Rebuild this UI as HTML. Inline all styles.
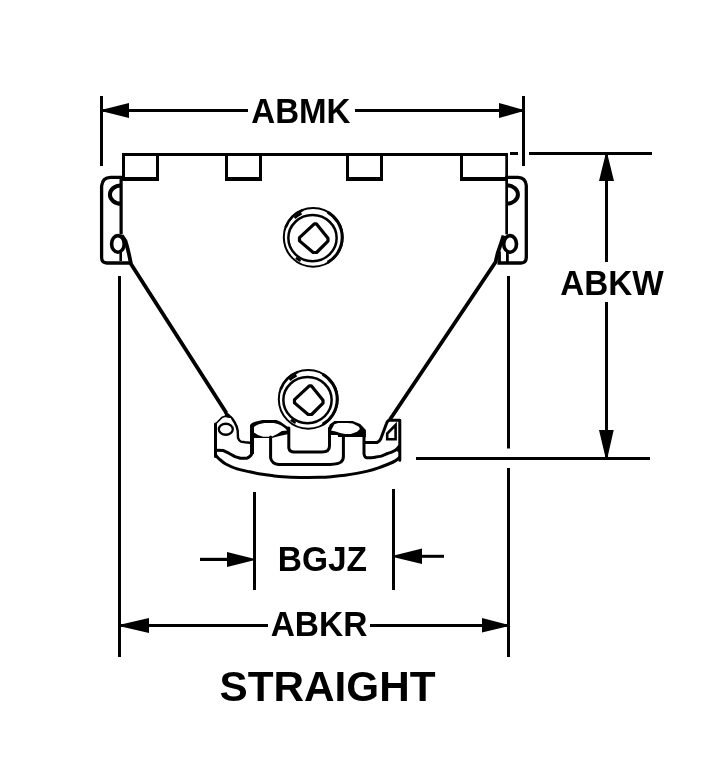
<!DOCTYPE html>
<html><head><meta charset="utf-8">
<style>
html,body{margin:0;padding:0;background:#fff;}
body{width:716px;height:778px;overflow:hidden;}
svg{display:block;will-change:transform;}
text{font-family:"Liberation Sans",sans-serif;font-weight:bold;fill:#000;}
</style></head>
<body>
<svg width="716" height="778" viewBox="0 0 716 778">
<rect x="0" y="0" width="716" height="778" fill="#fff"/>
<g id="dims" fill="#000">
  <!-- ABMK -->
  <rect x="100" y="96" width="3" height="70"/>
  <rect x="522" y="96" width="3" height="70"/>
  <rect x="103" y="109" width="145" height="3"/>
  <rect x="355" y="109" width="167" height="3"/>
  <polygon points="103,109.4 103,111.6 129,118 129,103"/>
  <polygon points="522,109.4 522,111.6 499,118 499,103"/>
  <text id="t1" x="0" y="0" font-size="33" transform="matrix(1.0026 0 0 1.0549 251.25 123.00)">ABMK</text>
  <!-- ABKW -->
  <rect x="529" y="152" width="123" height="3"/>
  <rect x="416" y="457" width="234" height="3"/>
  <rect x="605" y="155" width="3" height="107"/>
  <rect x="605" y="302" width="3" height="155"/>
  <polygon points="605.4,155 607.6,155 614,181 599,181"/>
  <polygon points="599,430 613.7,430 607.6,457 605.4,457"/>
  <text id="t2" x="0" y="0" font-size="33" transform="matrix(1.0084 0 0 1.0769 560.24 295.00)">ABKW</text>
  <!-- vertical ext lines -->
  <rect x="118" y="276" width="3" height="381"/>
  <rect x="507" y="276" width="3" height="172.5"/>
  <rect x="507" y="468" width="3" height="189"/>
  <!-- ABKR -->
  <rect x="121" y="624" width="147" height="3"/>
  <rect x="370" y="624" width="137" height="3"/>
  <polygon points="121,624.4 121,626.6 149,633 149,618"/>
  <polygon points="507,624.4 507,626.6 482,632.6 482,618"/>
  <text id="t3" x="0" y="0" font-size="33" transform="matrix(1.0155 0 0 1.0374 270.64 636.30)">ABKR</text>
  <!-- BGJZ -->
  <rect x="253" y="492" width="3" height="98"/>
  <rect x="392" y="489" width="3" height="101"/>
  <rect x="200" y="557.8" width="30" height="3.2"/>
  <polygon points="253,558.4 253,560.6 227,567 227,552"/>
  <rect x="420" y="554.8" width="24" height="3"/>
  <polygon points="395,555.2 395,557.4 422,564 422,548.6"/>
  <text id="t4" x="0" y="0" font-size="33" transform="matrix(1.0147 0 0 1.0366 277.72 570.64)">BGJZ</text>
  <!-- STRAIGHT -->
  <text id="t5" x="0" y="0" font-size="40" transform="matrix(1.0565 0 0 1.0690 219.58 700.57)">STRAIGHT</text>
</g>
<g id="body" fill="#000">
  <rect x="122" y="153" width="386" height="3"/>
  <!-- tab0 -->
  <rect x="122" y="153" width="3" height="25"/>
  <rect x="156" y="153" width="3" height="28"/>
  <rect x="122" y="177" width="37" height="4"/>
  <!-- tab1 -->
  <rect x="225" y="153" width="3" height="28"/>
  <rect x="259" y="153" width="3" height="28"/>
  <rect x="225" y="177" width="37" height="4"/>
  <!-- tab2 -->
  <rect x="346" y="153" width="3" height="28"/>
  <rect x="380" y="153" width="3" height="28"/>
  <rect x="346" y="177" width="37" height="4"/>
  <!-- tab3 -->
  <rect x="460" y="153" width="3" height="28"/>
  <rect x="460" y="177" width="48" height="4"/>
  <rect x="505.3" y="153" width="2.7" height="81.3"/>
  <rect x="510" y="152" width="8" height="3"/>
  <!-- left body edge -->
  <rect x="119.5" y="176" width="3.2" height="58.5"/>
</g>

<g id="base" fill="none" stroke="#000" stroke-width="3" stroke-linejoin="round" stroke-linecap="round">
  <!-- diagonal ends -->
  <path d="M224.8 411 L226 416.2 L231.5 417.2 Z" fill="#000" stroke-width="1.5"/>
  
  <!-- left lug -->
  <path d="M215.5 424 V456.5"/>
  <path d="M215.3 424.3 L221.8 417.6 L224.9 416.3 L231.6 417.5" stroke-width="1.6"/>
  <path d="M232.1 418.4 L234.7 422.5 L236.7 426.6 L237.7 430.7 L238 437.9 Q239 441 241 441.6 L245 442.3 L250 442.8" stroke-width="2.4"/>
  <ellipse cx="225.8" cy="429.25" rx="7" ry="5.5" stroke-width="2.3"/>
  <path d="M216.9 450.3 L223.4 450.6 L228.8 453.2 L235 456.6 L240.4 458.3 L246.6 458.3 Q250.5 457 252 453.5"/>
  <path d="M215.60 454.50 C215.83 454.87 216.20 455.78 217.00 456.70 C217.80 457.62 218.87 458.75 220.40 460.00 C221.93 461.25 223.42 462.72 226.20 464.20 C228.98 465.68 233.18 467.63 237.10 468.90 C241.02 470.17 245.50 470.90 249.70 471.80 C253.90 472.70 258.58 473.67 262.30 474.30 C266.02 474.93 268.55 475.18 272.00 475.60 C275.45 476.02 278.33 476.50 283.00 476.80 C287.67 477.10 293.83 477.32 300.00 477.40 C306.17 477.48 314.50 477.45 320.00 477.30 C325.50 477.15 328.83 476.83 333.00 476.50 C337.17 476.17 341.05 475.82 345.00 475.30 C348.95 474.78 352.93 474.10 356.70 473.40 C360.47 472.70 363.97 472.03 367.60 471.10 C371.23 470.17 375.00 468.98 378.50 467.80 C382.00 466.62 385.80 465.15 388.60 464.00 C391.40 462.85 393.48 461.98 395.30 460.90 C397.12 459.82 398.80 458.07 399.50 457.50"/>
  <!-- left cylinder -->
  <path d="M252 425 V454" stroke-width="4" stroke-linecap="butt"/>
  <path d="M250 436 V425 L252 423 L255 421.7 L262.4 420 H276.5 L280.5 421.7 L287.2 426.4 L289.9 427.4 V433.8 L280.5 435.8 L271.8 438.1 H253.7 L250 436 Z" fill="#000" stroke="none"/>
  <path d="M254 427.1 Q257 424 264.4 423 H273.8 Q282 424.5 287.2 430.4 L281.9 431.1 Q277 434.5 271.8 436.8 H263.1 Q257 435 254 432.4 Z" fill="#fff" stroke="none"/>
  
  <path d="M288.8 428 V448 Q289.5 452 294.2 452 H321.9 Q329.5 452 329.5 446 V428.4"/>
  <path d="M270.6 437 V458 Q272 464 278.5 464.5 H330 Q338.9 464 341 462 Q343.4 460 343.4 456.5 V434"/>
  <!-- right cylinder -->
  <path d="M328.1 436 V427.9 L330 424.2 L334.4 421 H352.7 L355.8 422.3 L360.2 423.9 L365.9 430.1 V437.1 H338.2 L337.6 434.9 H331 Z" fill="#000" stroke="none"/>
  <path d="M331 430.6 L334.4 424.2 L338.2 422.9 H347.6 L352.7 423.5 L358.9 426.7 L359.9 428.9 L357.1 431.7 L350.8 433.9 H345.1 L340.1 433 L335.7 431.4 Z" fill="#fff" stroke="none"/>
  
  
  <path d="M364 431 V454  C364.23 454.53 364.43 456.57 365.40 457.20 C366.37 457.83 368.20 457.80 369.80 457.80 C371.40 457.80 373.30 457.43 375.00 457.20 C376.70 456.97 378.47 456.78 380.00 456.40 C381.53 456.02 382.93 455.38 384.20 454.90 C385.47 454.42 386.27 454.02 387.60 453.50 C388.93 452.98 390.80 452.43 392.20 451.80 C393.60 451.17 394.87 450.58 396.00 449.70 C397.13 448.82 398.50 447.03 399.00 446.50"/>
  <path d="M396.5 450 L399.5 444 V452 Z" fill="#000" stroke-width="1"/>
  <path d="M365.5 442.5 H377 Q379.5 441.5 380.7 439 L386.5 423.5 Q387.5 420.2 390 420.2 H399.8 V460.3"/>
  <path d="M387.2 439.2 V433.5 L395.6 425 V439.2 Z" stroke-width="2.6" stroke-linejoin="miter"/>
</g>
<g id="lines" fill="none" stroke="#000" stroke-width="3">
  <!-- left bracket -->
  <path d="M122 177.3 H110.5 Q102.6 177.3 101.6 186 V257.8 Q101.8 262.8 106.8 263 H131" stroke-width="3.3"/>
  <path d="M121 185.4 A11.1 9.2 0 0 0 121 203.8" stroke-width="4"/>
  <ellipse cx="117.9" cy="243.9" rx="6.3" ry="8.3" stroke-width="3.6"/>
  <line x1="120.7" y1="251.5" x2="120.7" y2="261" stroke-width="2.6"/>
  <path d="M121.8 235.5 L125.5 241 L127.5 248 L129 254.3 L131 264 L226.4 413" stroke-width="3.8"/>
  <!-- right bracket -->
  <path d="M497.5 263 H521 Q526.1 262.8 526.3 257.7 V185.5 Q525.5 177.6 518 177.4 H505" stroke-width="3.3"/>
  <path d="M506.6 185.3 A11.35 9.2 0 0 1 506.6 203.7" stroke-width="4"/>
  <ellipse cx="510.1" cy="243.9" rx="6.4" ry="8.3" stroke-width="3.6"/>
  <line x1="499.5" y1="251.5" x2="499.5" y2="262" stroke-width="2.8"/>
  <line x1="507.4" y1="251" x2="507.4" y2="262" stroke-width="2.8"/>
  <path d="M503.5 235.5 L500.5 245 L497.7 253 L495.6 262 L393 415 L389.8 419.5" stroke-width="3.8"/>
  <!-- bolts -->
  <g id="bolt">
  <circle cx="313.2" cy="237.3" r="29.4" stroke-width="2" fill="#fff"/>
  <path d="M327.70 212.19 A29.00 29.00 0 0 1 327.70 262.41" stroke-width="3"/>
  <path d="M285.76 227.31 A29.20 29.20 0 0 1 303.21 209.86" stroke-width="2.6"/>
  <ellipse cx="312.5" cy="238.1" rx="24.15" ry="23.1" stroke-width="2.5"/>
  <path d="M294.58 218.02 A26.80 26.80 0 0 1 301.45 213.21" stroke-width="3"/>
  <path d="M300.62 260.96 A26.80 26.80 0 0 1 295.97 257.83" stroke-width="2.5"/>
  <path d="M314.3 223.8 H316.3 L328 238.3 V241.2 L316.6 252.5 H313.2 L299.5 240.9 V237.7 Z" stroke-width="3.2" stroke-linejoin="round"/>
  </g>
  <use href="#bolt" transform="translate(-5,162)"/>
</g>
</svg>
</body></html>
